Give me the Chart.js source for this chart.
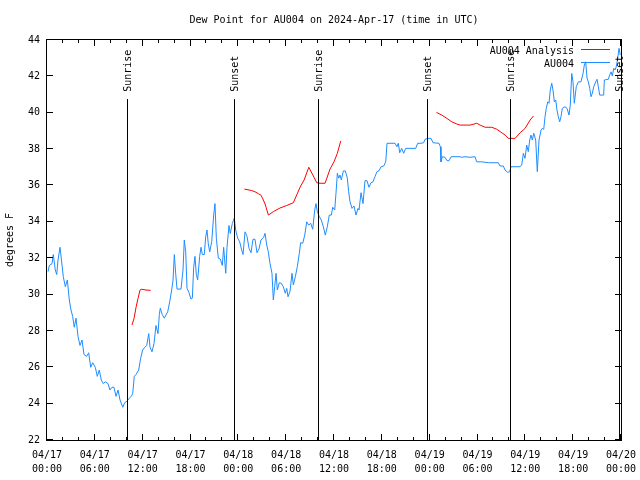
<!DOCTYPE html>
<html>
<head>
<meta charset="utf-8">
<title>Dew Point for AU004</title>
<script src="https://cdn.jsdelivr.net/npm/chart.js@4/dist/chart.umd.min.js"></script>
<style>
    body { margin: 0; background: #fff; }
    canvas { display: block; }
</style>
</head>
<body>
<canvas id="dew-chart" width="640" height="480"></canvas>
<script>
// Observations (hours since 04/17 00:00 UTC, degrees F)
const obsHours = [
    0.13, 0.29, 0.63, 0.79, 1.04, 1.22, 1.38, 1.63, 1.79, 2.04,
    2.30, 2.55, 2.80, 3.01, 3.22, 3.42, 3.64, 3.89, 4.14, 4.39,
    4.64, 4.98, 5.23, 5.48, 5.73, 6.06, 6.31, 6.56, 6.81, 7.06,
    7.31, 7.65, 7.90, 8.15, 8.40, 8.66, 8.91, 9.16, 9.50, 9.75,
    10.07, 10.32, 10.57, 10.75, 10.95, 11.16, 11.50, 11.75, 12.00, 12.26,
    12.51, 12.76, 12.92, 13.17, 13.42, 13.67, 13.92, 14.09,
    14.21, 14.46, 14.71, 15.14, 15.39, 15.64, 15.81, 15.97, 16.14, 16.31,
    16.81, 17.06, 17.22, 17.40, 17.56, 17.81, 18.06, 18.23, 18.40, 18.56,
    18.73, 18.90, 19.15, 19.32, 19.48, 19.73, 19.91, 20.07, 20.23, 20.41,
    20.66, 20.91, 21.07, 21.24, 21.49, 21.74, 21.99, 22.16, 22.42, 22.58,
    22.83, 22.99, 23.24, 23.49, 23.67, 23.92, 24.17, 24.42, 24.59, 24.84,
    25.09, 25.34, 25.59, 25.84, 26.09, 26.34, 26.59, 26.84, 27.18,
    27.35, 27.56, 27.76, 27.97, 28.22, 28.39, 28.56, 28.73, 28.89, 29.14,
    29.39, 29.64, 29.89, 30.07, 30.23, 30.48, 30.73, 30.90, 31.15, 31.40,
    31.65, 31.82, 32.08, 32.33, 32.58, 32.83, 33.08, 33.33, 33.58, 33.74,
    33.91, 34.16, 34.41, 34.66, 34.91, 35.16, 35.41, 35.66, 35.84, 36.09,
    36.25, 36.42, 36.59, 36.75, 36.92, 37.17, 37.42, 37.67, 37.84, 38.01,
    38.26, 38.51, 38.76, 39.01,
    39.14, 39.39, 39.64, 39.89, 40.14, 40.39, 40.64, 40.89, 41.14, 41.39,
    41.65, 41.90, 42.24, 42.49, 42.65, 43.65, 43.90, 44.07, 44.24, 44.49,
    44.74, 44.99, 46.25, 46.50, 46.91, 47.25, 47.42, 47.76, 48.17, 48.42,
    49.17, 49.34, 49.42, 49.59, 49.92, 50.18, 50.43, 50.68, 51.81, 52.02,
    52.43, 53.06,
    53.69, 53.90, 54.53, 55.36, 56.61, 56.82, 57.24, 57.45, 57.79, 58.04,
    58.20, 59.33, 59.55, 59.75, 59.96, 60.17, 60.37, 60.55, 60.71, 60.88,
    61.05, 61.30, 61.50, 61.72, 61.97, 62.13, 62.31, 62.47, 62.63, 62.81,
    62.97, 63.13, 63.31, 63.47, 63.64, 63.81, 63.97, 64.14, 64.31, 64.47,
    64.64, 64.98, 65.23, 65.48, 65.64, 65.82, 65.98, 66.14, 66.39, 66.65,
    66.98, 67.24, 67.40, 67.57, 67.74, 67.90, 68.08, 68.24, 68.40, 68.58,
    68.83, 68.99, 69.16, 69.33, 69.83, 69.91, 70.41, 70.58, 70.75, 70.91,
    71.09, 71.25, 71.41, 71.59, 71.75, 71.91
];
const obsDew = [
    31.26, 31.6, 31.7, 32.2, 31.35, 31.1, 31.9, 32.6, 32.0, 31.0,
    30.43, 30.8, 29.7, 29.15, 28.8, 28.2, 28.7, 27.7, 27.2, 27.5,
    26.7, 26.6, 26.8, 26.0, 26.25, 26.0, 25.5, 25.85, 25.3, 25.1,
    25.2, 25.1, 24.75, 24.9, 24.9, 24.4, 24.75, 24.2, 23.8, 24.05,
    24.15, 24.3, 24.4, 24.55, 25.5, 25.6, 25.85, 26.5, 26.95, 27.1,
    27.2, 27.85, 27.1, 26.85, 27.3, 28.3, 27.85, 28.9,
    29.25, 28.9, 28.7, 29.05, 29.6, 30.25, 30.8, 32.2, 31.17, 30.3,
    30.3, 31.35, 33.0, 32.35, 30.35, 30.1, 29.75, 29.8, 31.5, 32.1,
    31.1, 30.8, 32.1, 32.6, 32.2, 32.2, 33.2, 33.55, 32.8, 32.35,
    32.9, 34.37, 35.0, 33.1, 32.0, 31.95, 31.6, 32.6, 31.17, 32.6,
    33.8, 33.36, 33.9, 34.2, 33.55, 33.1, 32.9, 32.45, 32.2, 33.45,
    33.2, 32.55, 32.3, 33.04, 33.04, 32.3, 32.5, 33.0, 33.15,
    33.37, 32.72, 32.36, 31.72, 31.17, 29.7, 30.43, 31.17, 30.25, 30.65,
    30.62, 30.43, 30.07, 30.34, 29.88, 30.16, 31.17, 30.53, 30.98, 31.53,
    32.27, 32.85, 32.82, 33.27, 34.0, 33.82, 33.92, 33.59, 34.65, 35.0,
    34.56, 34.28, 34.1, 33.73, 33.27, 33.73, 34.37, 34.37, 34.8, 34.65,
    35.57, 36.67, 36.4, 36.57, 36.3, 36.8, 36.8, 36.4, 35.66, 35.1,
    34.74, 34.87, 34.37, 34.74,
    34.65, 35.6, 35.0, 36.26, 36.26, 35.9, 36.15, 36.2, 36.48, 36.76,
    36.81, 37.03, 37.07, 37.3, 38.32, 38.32, 38.13, 38.32, 37.8, 38.04,
    37.77, 38.04, 38.04, 38.32, 38.32, 38.35, 38.54, 38.59, 38.59, 38.35,
    38.32, 38.13, 37.3, 37.58, 37.55, 37.36, 37.36, 37.58, 37.58, 37.55,
    37.58, 37.55,
    37.58, 37.3, 37.3, 37.25, 37.25, 37.07, 37.07, 36.85, 36.72, 36.76,
    37.03, 37.03, 37.12, 37.77, 37.49, 38.22, 37.86, 38.5, 38.77, 38.5,
    38.87, 38.5, 36.76, 38.5, 39.05, 39.14, 39.09, 39.78, 40.24, 40.6,
    40.52, 41.25, 41.62, 41.25, 40.6, 40.7, 40.15, 39.78, 39.5, 39.78,
    40.24, 40.33, 40.24, 39.87, 40.42, 42.16, 41.7, 40.52, 41.43, 41.7,
    41.7, 42.16, 42.62, 42.8, 41.9, 41.7, 41.34, 40.88, 41.07, 41.43,
    41.7, 41.84, 41.43, 40.97, 40.97, 41.8, 41.84, 42.07, 42.25, 42.02,
    42.44, 42.35, 42.53, 43.0, 43.54, 43.17
];

// Analysis runs (three separate pieces)
const anaHours1 = [10.66, 10.92, 11.17, 11.42, 11.67, 11.83, 12.42, 13.01];
const anaDew1 = [28.32, 28.69, 29.3, 29.79, 30.25, 30.29, 30.25, 30.23];
const anaHours2 = [24.76, 25.68, 26.10, 26.51, 26.85, 27.14, 27.35, 27.48, 27.77, 28.39,
    29.23, 30.08, 30.90, 31.74, 32.25, 32.84, 33.34, 33.84, 34.25, 34.88,
    35.50, 36.00, 36.42, 36.85];
const anaDew2 = [35.8, 35.72, 35.65, 35.55, 35.46, 35.2, 34.98, 34.8, 34.37, 34.56,
    34.76, 34.9, 35.05, 35.9, 36.3, 37.0, 36.58, 36.15, 36.12, 36.12,
    36.9, 37.3, 37.77, 38.45];
const anaHours3 = [48.85, 49.52, 50.15, 50.78, 51.40, 51.82, 53.07, 53.91, 54.33, 54.96,
    55.80, 56.42, 56.84, 57.47, 57.88, 58.72, 59.35, 59.97, 60.60, 61.02];
const anaDew3 = [40.02, 39.87, 39.69, 39.5, 39.38, 39.32, 39.32, 39.42, 39.32, 39.2,
    39.2, 39.09, 38.96, 38.77, 38.59, 38.59, 38.9, 39.14, 39.6, 39.82];

// Sunrise / sunset markers
const sunHours = [10.07, 23.49, 34.03, 47.63, 58.07, 71.81];
const sunLabels = ['Sunrise', 'Sunset', 'Sunrise', 'Sunset', 'Sunrise', 'Sunset'];

// Axis tick labels
const xTickDates = ['04/17', '04/17', '04/17', '04/17', '04/18', '04/18', '04/18',
    '04/18', '04/19', '04/19', '04/19', '04/19', '04/20'];
const xTickTimes = ['00:00', '06:00', '12:00', '18:00', '00:00', '06:00', '12:00',
    '18:00', '00:00', '06:00', '12:00', '18:00', '00:00'];

const FONT = '10px "DejaVu Sans Mono"';
const SUN_LINE_TOP = 40.75;   // where the marker lines start (in degrees F)
const SUN_LABEL_BASE = 41.15; // bottom end of the rotated labels

const toPoints = (xs, ys) => xs.map((x, i) => ({ x: x, y: ys[i] }));

const analysisData = [
    ...toPoints(anaHours1, anaDew1), { x: 13.5, y: null },
    ...toPoints(anaHours2, anaDew2), { x: 37.5, y: null },
    ...toPoints(anaHours3, anaDew3)
];
const obsData = toPoints(obsHours, obsDew);

// gnuplot-like frame, inward ticks, sun markers, legend and title
const framePlugin = {
    id: 'frame',
    afterDatasetsDraw(chart) {
        const { ctx, chartArea: a, scales: { x, y } } = chart;
        ctx.save();
        ctx.strokeStyle = '#000';
        ctx.lineWidth = 1;

        // sunrise / sunset lines
        sunHours.forEach((h, i) => {
            const px = Math.round(x.getPixelForValue(h)) + 0.5;
            ctx.beginPath();
            ctx.moveTo(px, y.getPixelForValue(SUN_LINE_TOP));
            ctx.lineTo(px, a.bottom);
            ctx.stroke();

            ctx.save();
            ctx.translate(px + 1, y.getPixelForValue(SUN_LABEL_BASE));
            ctx.rotate(-Math.PI / 2);
            ctx.font = FONT;
            ctx.fillStyle = '#000';
            ctx.textAlign = 'left';
            ctx.textBaseline = 'middle';
            ctx.fillText(sunLabels[i], 0, 0);
            ctx.restore();
        });

        // border
        ctx.strokeRect(a.left - 0.5, a.top - 0.5, a.right - a.left + 1, a.bottom - a.top + 1);

        // x ticks every 2 hours, major every 6
        ctx.beginPath();
        for (let h = 0; h <= 72; h += 2) {
            const px = Math.round(x.getPixelForValue(h)) - 0.5;
            const len = h % 6 === 0 ? 6 : 3;
            ctx.moveTo(px, a.bottom);
            ctx.lineTo(px, a.bottom - len);
            ctx.moveTo(px, a.top);
            ctx.lineTo(px, a.top + len);
        }
        // y ticks every 2 degrees
        for (let v = 22; v <= 44; v += 2) {
            const py = Math.round(y.getPixelForValue(v)) - 0.5;
            ctx.moveTo(a.left, py);
            ctx.lineTo(a.left + 6, py);
            ctx.moveTo(a.right, py);
            ctx.lineTo(a.right - 6, py);
        }
        ctx.stroke();

        // legend
        ctx.font = FONT;
        ctx.textAlign = 'right';
        ctx.textBaseline = 'middle';
        chart.data.datasets.forEach((ds, i) => {
            const rowY = a.top + 10 + i * 13;
            ctx.fillStyle = '#000';
            ctx.fillText(ds.label, a.right - 47, rowY + 1);
            ctx.strokeStyle = ds.borderColor;
            ctx.beginPath();
            ctx.moveTo(a.right - 40, rowY - 0.5);
            ctx.lineTo(a.right - 11, rowY - 0.5);
            ctx.stroke();
        });

        // title
        ctx.fillStyle = '#000';
        ctx.textAlign = 'center';
        ctx.fillText('Dew Point for AU004 on 2024-Apr-17 (time in UTC)', (a.left + a.right) / 2, 20);
        ctx.restore();
    }
};

Chart.defaults.font.family = '"DejaVu Sans Mono"';
Chart.defaults.font.size = 10;
Chart.defaults.color = '#000';

const ctx = document.getElementById('dew-chart').getContext('2d');
new Chart(ctx, {
    type: 'line',
    data: {
        datasets: [{
            label: 'AU004 Analysis',
            data: analysisData,
            borderColor: '#ff0000',
            borderWidth: 1,
            pointRadius: 0,
            tension: 0,
            spanGaps: false
        }, {
            label: 'AU004',
            data: obsData,
            borderColor: '#1e8cff',
            borderWidth: 1,
            pointRadius: 0,
            tension: 0
        }]
    },
    options: {
        responsive: false,
        animation: false,
        devicePixelRatio: 1,
        layout: { padding: { top: 40, right: 19, left: 0, bottom: 0 } },
        scales: {
            x: {
                type: 'linear',
                min: 0,
                max: 72,
                grid: { display: false, drawTicks: false },
                border: { display: false },
                ticks: {
                    stepSize: 6,
                    autoSkip: false,
                    maxRotation: 0,
                    padding: 8,
                    font: { size: 10, lineHeight: 1.4 },
                    callback: (value, index) => [xTickDates[index], xTickTimes[index]]
                },
                afterFit: (scale) => {
                    scale.height = 40;
                    scale.paddingLeft = 0;
                    scale.paddingRight = 0;
                }
            },
            y: {
                min: 22,
                max: 44,
                grid: { display: false, drawTicks: false },
                border: { display: false },
                title: { display: true, text: 'degrees F', padding: { top: 4, bottom: 0 } },
                ticks: { stepSize: 2, padding: 7 },
                afterFit: (scale) => {
                    scale.width = 47;
                }
            }
        },
        plugins: {
            legend: { display: false },
            tooltip: { enabled: false }
        }
    },
    plugins: [framePlugin]
});
</script>
</body>
</html>
